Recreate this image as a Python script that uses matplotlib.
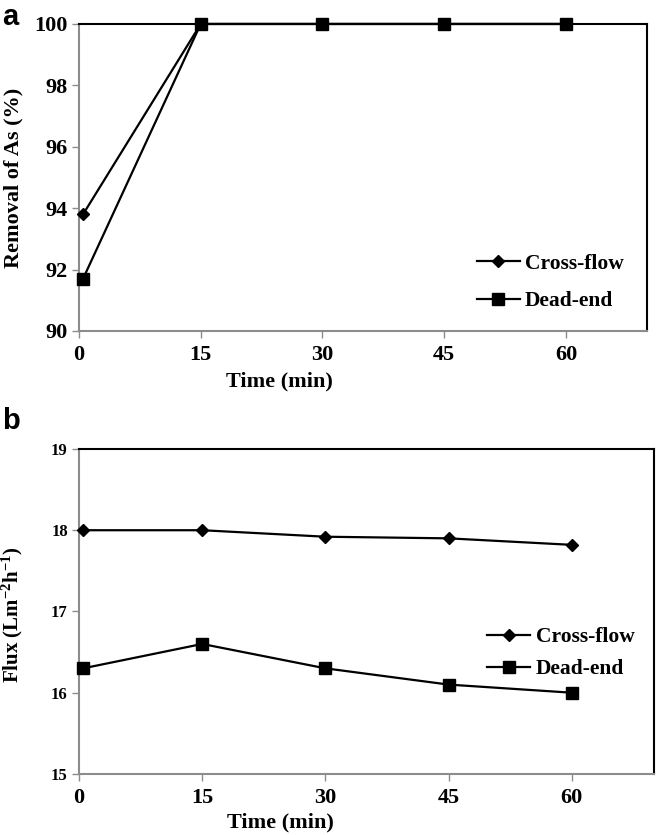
import matplotlib
matplotlib.use("Agg")
import matplotlib.pyplot as plt

plt.rcParams['font.family'] = ['Liberation Serif', 'DejaVu Serif']
plt.rcParams['font.weight'] = 'bold'
plt.rcParams['mathtext.fontset'] = 'custom'
plt.rcParams['mathtext.rm'] = 'Liberation Serif:bold'
plt.rcParams['mathtext.default'] = 'rm'

# data
time = [0.5, 15, 30, 45, 60]
removal_cross = [93.8, 100, 100, 100, 100]
removal_dead = [91.7, 100, 100, 100, 100]
flux_cross = [18.0, 18.0, 17.92, 17.9, 17.82]
flux_dead = [16.3, 16.6, 16.3, 16.1, 16.0]
xticks = [0, 15, 30, 45, 60]

fig = plt.figure(figsize=(6.56, 8.35), dpi=100)
ax1 = fig.add_axes([0.1204, 0.6036, 0.866, 0.3677])
ax2 = fig.add_axes([0.1204, 0.0731, 0.8765, 0.3892])


def style(ax, ytick_size):
    for s in ['left', 'bottom']:
        ax.spines[s].set_color('#8c8c8c')
        ax.spines[s].set_linewidth(1.5)
    for s in ['top', 'right']:
        ax.spines[s].set_color('black')
        ax.spines[s].set_linewidth(1.5)
    ax.set_xlim(0, 70)
    ax.set_xticks(xticks)
    ax.tick_params(axis='both', direction='out', length=5, width=1,
                   color='#8c8c8c')
    ax.tick_params(axis='x', labelsize=16, pad=5)
    ax.tick_params(axis='y', labelsize=ytick_size, pad=3)
    ax.set_xlabel('Time (min)', fontsize=16, fontweight='bold')


# panel a
ax1.plot(time, removal_cross, color='black', lw=1.6, marker='D', ms=6.5,
         label='Cross-flow', clip_on=False, zorder=4)
ax1.plot(time, removal_dead, color='black', lw=1.6, marker='s', ms=9,
         label='Dead-end', clip_on=False, zorder=4)
ax1.set_ylim(90, 100)
ax1.set_yticks([90, 92, 94, 96, 98, 100])
style(ax1, 16)
ax1.set_ylabel('Removal of As (%)', fontsize=16, fontweight='bold')
ax1.yaxis.set_label_coords(-0.097, 0.5)
ax1.xaxis.set_label_coords(0.352, -0.133)
ax1.legend(loc='center left', bbox_to_anchor=(0.70, 0.158), frameon=False,
           fontsize=15.5, handlelength=2.0, handletextpad=0.25,
           labelspacing=0.82, borderpad=0, borderaxespad=0)

# panel b
ax2.plot(time, flux_cross, color='black', lw=1.6, marker='D', ms=6.5,
         label='Cross-flow', clip_on=False, zorder=4)
ax2.plot(time, flux_dead, color='black', lw=1.6, marker='s', ms=9,
         label='Dead-end', clip_on=False, zorder=4)
ax2.set_ylim(15, 19)
ax2.set_yticks([15, 16, 17, 18, 19])
style(ax2, 12)
ax2.set_ylabel('Flux (Lm$^{-2}$h$^{-1}$)', fontsize=15, fontweight='bold')
ax2.yaxis.set_label_coords(-0.094, 0.49)
ax2.xaxis.set_label_coords(0.351, -0.12)
ax2.legend(loc='center left', bbox_to_anchor=(0.71, 0.371), frameon=False,
           fontsize=15.5, handlelength=2.0, handletextpad=0.25,
           labelspacing=0.55, borderpad=0, borderaxespad=0)

fig.text(0.003, 0.997, 'a', family='Liberation Sans', fontweight='bold',
         fontsize=21, va='top', ha='left')
fig.text(0.003, 0.513, 'b', family='Liberation Sans', fontweight='bold',
         fontsize=21, va='top', ha='left')

fig.savefig('out.png', dpi=100)
